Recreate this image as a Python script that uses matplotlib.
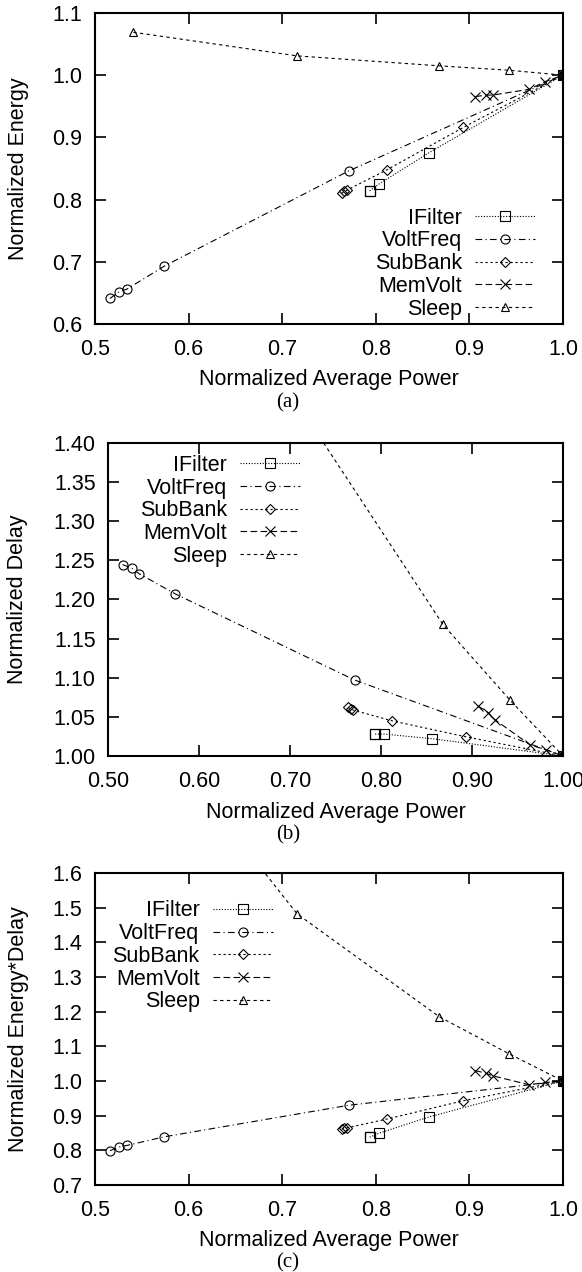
import matplotlib.pyplot as plt
from matplotlib.ticker import FormatStrFormatter

plt.rcParams['font.family'] = ['Liberation Sans', 'DejaVu Sans']

# ---- data ----
series = ["IFilter", "VoltFreq", "SubBank", "MemVolt", "Sleep"]

# normalized average power (x) per series
pow_ifilter = [0.7935, 0.7935, 0.7935, 0.803, 0.8565, 1.0]
pow_voltfreq = [0.516, 0.526, 0.534, 0.574, 0.771, 1.0]
pow_subbank = [0.7635, 0.7665, 0.7695, 0.8116, 0.8935, 1.0]
pow_memvolt = [0.9063, 0.9177, 0.9249, 0.964, 0.981, 1.0]
pow_sleep = [0.541, 0.716, 0.868, 0.942, 1.0]

# (a) normalized energy
en_ifilter = [0.814, 0.814, 0.814, 0.8246, 0.875, 1.0]
en_voltfreq = [0.641, 0.652, 0.656, 0.693, 0.846, 1.0]
en_subbank = [0.810, 0.813, 0.8155, 0.8476, 0.916, 1.0]
en_memvolt = [0.9655, 0.968, 0.968, 0.9773, 0.9896, 1.0]
en_sleep = [1.069, 1.031, 1.015, 1.008, 1.0]

# (b) normalized delay
dl_ifilter = [1.028, 1.028, 1.028, 1.028, 1.022, 1.0]
dl_voltfreq = [1.2445, 1.240, 1.233, 1.207, 1.097, 1.0]
dl_subbank = [1.062, 1.060, 1.0586, 1.045, 1.0244, 1.0]
dl_memvolt = [1.064, 1.0555, 1.0465, 1.014, 1.008, 1.0]
dl_sleep = [1.95, 1.437, 1.168, 1.071, 1.0]

# (c) normalized energy*delay
edp_ifilter = [0.838, 0.838, 0.838, 0.849, 0.896, 1.0]
edp_voltfreq = [0.799, 0.810, 0.814, 0.839, 0.930, 1.0]
edp_subbank = [0.861, 0.863, 0.865, 0.890, 0.943, 1.0]
edp_memvolt = [1.030, 1.0225, 1.015, 0.989, 0.9957, 1.0]
edp_sleep = [2.08, 1.482, 1.185, 1.079, 1.0]

xs = [pow_ifilter, pow_voltfreq, pow_subbank, pow_memvolt, pow_sleep]
ys_a = [en_ifilter, en_voltfreq, en_subbank, en_memvolt, en_sleep]
ys_b = [dl_ifilter, dl_voltfreq, dl_subbank, dl_memvolt, dl_sleep]
ys_c = [edp_ifilter, edp_voltfreq, edp_subbank, edp_memvolt, edp_sleep]

markers = ['s', 'o', 'D', 'x', '^']
msizes = [6.5, 6.5, 5.0, 7.5, 6.3]
dashes = [(0, (1, 1.5)), (0, (6, 3, 1, 3)), (0, (2, 2.5)), (0, (6, 3)), (0, (3, 3))]

FS = 15.5

fig = plt.figure(figsize=(5.82, 12.72), dpi=100)
ax_a = fig.add_axes([0.1632, 0.7453, 0.8041, 0.2445])
ax_b = fig.add_axes([0.1856, 0.4057, 0.7818, 0.2461])
ax_c = fig.add_axes([0.1632, 0.0684, 0.8041, 0.2453])


def draw(ax, ys):
    for name, x, y, m, ms, ls in zip(series, xs, ys, markers, msizes, dashes):
        ax.plot(x, y, linestyle=ls, color='black', linewidth=0.8,
                marker=m, markersize=ms, markerfacecolor='none',
                markeredgecolor='black', markeredgewidth=0.8, label=name)
    for s in ax.spines.values():
        s.set_linewidth(1.5)
    ax.tick_params(direction='in', length=8, width=1.2, top=True, right=True,
                   labelsize=FS)
    ax.tick_params(axis='x', pad=11)
    ax.tick_params(axis='y', pad=9)
    ax.set_xlabel("Normalized Average Power", fontsize=FS)
    ax.xaxis.label.set_va('center')
    ax.yaxis.label.set_va('center')


def legend(ax, loc, anchor):
    ax.legend(loc=loc, bbox_to_anchor=anchor, frameon=False,
              markerfirst=False, fontsize=FS, handlelength=2.8,
              handletextpad=0.6, labelspacing=0.08, borderpad=0,
              borderaxespad=0)


draw(ax_a, ys_a)
ax_a.set_xlim(0.5, 1.0)
ax_a.set_ylim(0.6, 1.1)
ax_a.set_xticks([0.5, 0.6, 0.7, 0.8, 0.9, 1.0])
ax_a.set_yticks([0.6, 0.7, 0.8, 0.9, 1.0, 1.1])
ax_a.xaxis.set_major_formatter(FormatStrFormatter('%.1f'))
ax_a.yaxis.set_major_formatter(FormatStrFormatter('%.1f'))
ax_a.set_ylabel("Normalized Energy", fontsize=FS)
ax_a.yaxis.set_label_coords(-0.164, 0.5)
ax_a.xaxis.set_label_coords(0.5, -0.18)
legend(ax_a, 'lower right', (0.94, 0.014))

draw(ax_b, ys_b)
ax_b.set_xlim(0.5, 1.0)
ax_b.set_ylim(1.0, 1.4)
ax_b.set_xticks([0.5, 0.6, 0.7, 0.8, 0.9, 1.0])
ax_b.set_yticks([1.0, 1.05, 1.1, 1.15, 1.2, 1.25, 1.3, 1.35, 1.4])
ax_b.xaxis.set_major_formatter(FormatStrFormatter('%.2f'))
ax_b.yaxis.set_major_formatter(FormatStrFormatter('%.2f'))
ax_b.set_ylabel("Normalized Delay", fontsize=FS)
ax_b.yaxis.set_label_coords(-0.198, 0.5)
ax_b.xaxis.set_label_coords(0.5, -0.18)
legend(ax_b, 'upper right', (0.422, 0.962))

draw(ax_c, ys_c)
ax_c.set_xlim(0.5, 1.0)
ax_c.set_ylim(0.7, 1.6)
ax_c.set_xticks([0.5, 0.6, 0.7, 0.8, 0.9, 1.0])
ax_c.set_yticks([0.7, 0.8, 0.9, 1.0, 1.1, 1.2, 1.3, 1.4, 1.5, 1.6])
ax_c.xaxis.set_major_formatter(FormatStrFormatter('%.1f'))
ax_c.yaxis.set_major_formatter(FormatStrFormatter('%.1f'))
ax_c.set_ylabel("Normalized Energy*Delay", fontsize=FS)
ax_c.yaxis.set_label_coords(-0.164, 0.5)
ax_c.xaxis.set_label_coords(0.5, -0.177)
legend(ax_c, 'upper right', (0.38, 0.912))

# sub-figure captions (LaTeX-style, centred on the sub-figure)
for cap, yfrac in [("(a)", 0.6832), ("(b)", 0.3436), ("(c)", 0.0071)]:
    fig.text(288 / 582, yfrac, cap, ha='center', va='center',
             fontsize=15, family='Liberation Serif')

fig.savefig("out.png", dpi=100)
